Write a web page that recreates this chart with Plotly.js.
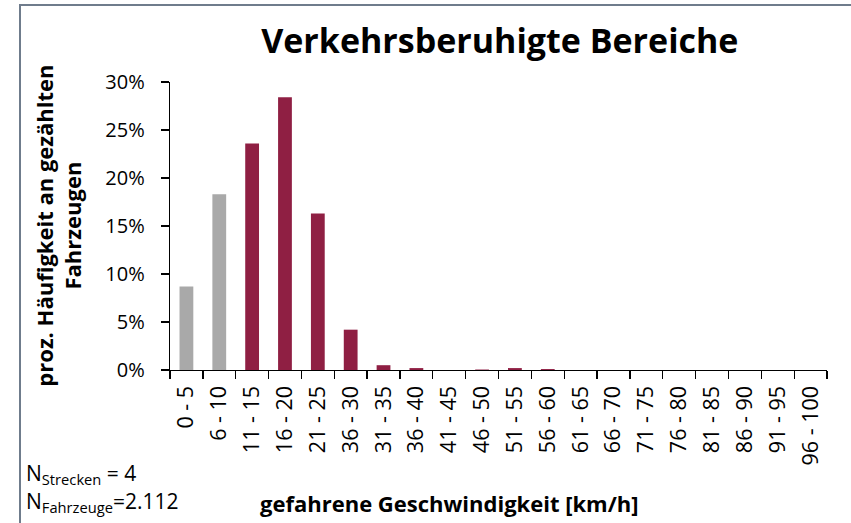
<!DOCTYPE html>
<html>
<head>
<meta charset="utf-8">
<script src="https://cdn.plot.ly/plotly-3.0.1.min.js"></script>
<style>
  html, body { margin: 0; padding: 0; background: #fff; }
  #wrap { position: relative; width: 851px; height: 523px; }
  #chart { width: 851px; height: 523px; }
  #frame { position: absolute; left: 19px; top: 4px; right: 0; bottom: 0;
           border-left: 2px solid #6f7c8c; border-top: 2px solid #6f7c8c; pointer-events: none; }
</style>
</head>
<body>
<div id="wrap">
  <div id="chart"></div>
  <div id="frame"></div>
</div>
<script>
const categories = ["0 - 5", "6 - 10", "11 - 15", "16 - 20", "21 - 25", "36 - 30", "31 - 35", "36 - 40",
  "41 - 45", "46 - 50", "51 - 55", "56 - 60", "61 - 65", "66 - 70", "71 - 75", "76 - 80",
  "81 - 85", "86 - 90", "91 - 95", "96 - 100"];
const shares = [8.7, 18.3, 23.6, 28.4, 16.3, 4.2, 0.5, 0.2, 0.0, 0.05, 0.2, 0.1,
  0, 0, 0, 0, 0, 0, 0, 0];
const yTicks = [0, 5, 10, 15, 20, 25, 30];
const grayCount = 2;

const gray = "#a9a9a9", maroon = "#8f1f43";
const barColors = categories.map((c, i) => i < grayCount ? gray : maroon);
const FONT = "Open Sans, sans-serif";

const trace = {
  type: "bar",
  x: categories,
  y: shares,
  marker: { color: barColors, line: { width: 0 } },
  hoverinfo: "x+y"
};

const layout = {
  width: 851, height: 523,
  margin: { l: 170, r: 24, t: 82, b: 153 },
  paper_bgcolor: "#ffffff",
  plot_bgcolor: "#ffffff",
  showlegend: false,
  bargap: 0.58,
  font: { family: FONT, color: "#000000" },
  title: {
    text: "<b>Verkehrsberuhigte Bereiche</b>",
    font: { family: FONT, size: 34, color: "#000" },
    x: 0.502, xref: "paper", xanchor: "center",
    y: 0.922, yref: "container", yanchor: "middle"
  },
  xaxis: {
    type: "category",
    tickangle: -90,
    tickfont: { family: FONT, size: 21.5, color: "#000" },
    ticklabelstandoff: 6,
    showline: true, linecolor: "#000", linewidth: 1.3,
    ticks: "outside", ticklen: 8, tickcolor: "#000", tickwidth: 1.3,
    tickson: "boundaries",
    showgrid: false, zeroline: false,
    automargin: false
  },
  yaxis: {
    range: [0, 30],
    tickvals: yTicks,
    ticktext: yTicks.map(v => v + "%"),
    tickfont: { family: FONT, size: 20, color: "#000" },
    ticklabelstandoff: 12,
    showline: true, linecolor: "#000", linewidth: 1.3,
    ticks: "outside", ticklen: 8, tickcolor: "#000", tickwidth: 1.3,
    showgrid: false, zeroline: false,
    automargin: false
  },
  annotations: [
    {
      text: "<b>proz. Häufigkeit an gezählten<br>Fahrzeugen</b>",
      xref: "paper", yref: "paper", x: -0.171, y: 0.5,
      xanchor: "center", yanchor: "middle",
      textangle: -90, showarrow: false,
      font: { family: FONT, size: 22, color: "#000" }
    },
    {
      text: "<b>gefahrene Geschwindigkeit [km/h]</b>",
      xref: "paper", yref: "paper", x: 0.426, y: -0.462,
      xanchor: "center", yanchor: "middle",
      showarrow: false,
      font: { family: FONT, size: 22, color: "#000" }
    },
    {
      text: "N<sub>Strecken</sub> = 4",
      xref: "paper", yref: "paper", x: -0.222, y: -0.362,
      xanchor: "left", yanchor: "middle",
      showarrow: false,
      font: { family: FONT, size: 21, color: "#000" }
    },
    {
      text: "N<sub>Fahrzeuge</sub>=2.112",
      xref: "paper", yref: "paper", x: -0.222, y: -0.46,
      xanchor: "left", yanchor: "middle",
      showarrow: false,
      font: { family: FONT, size: 21, color: "#000" }
    }
  ]
};

Plotly.newPlot("chart", [trace], layout, { displayModeBar: false, staticPlot: true });
</script>
</body>
</html>
